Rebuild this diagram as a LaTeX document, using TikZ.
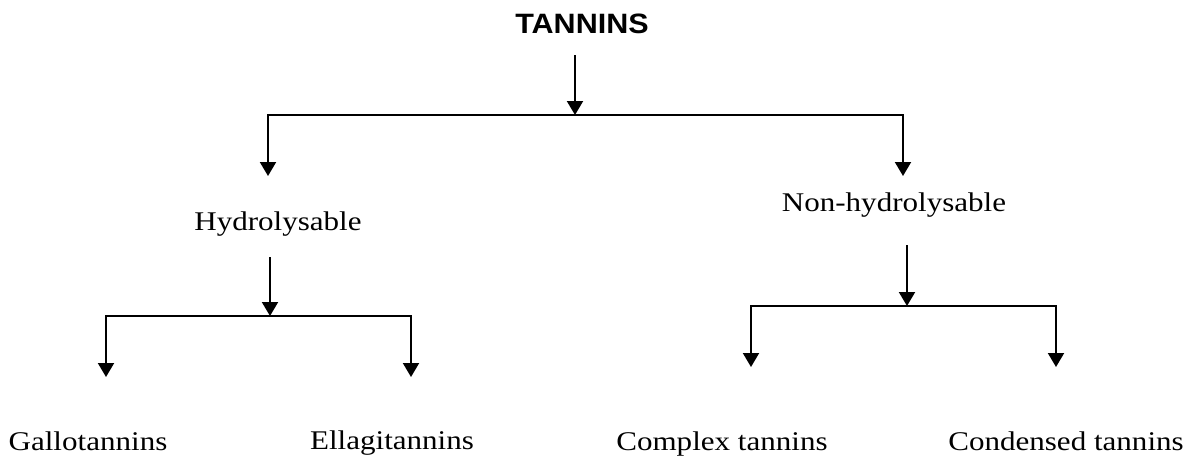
\documentclass[tikz,border=0pt]{standalone}
\usepackage{fontspec}
\usepackage{graphicx}
\setmainfont{Liberation Serif}
\newfontfamily\headfont{Liberation Sans}
\usetikzlibrary{arrows.meta}
\tikzset{
  lbl/.style={anchor=base, inner sep=0pt, font=\fontsize{27}{30}\selectfont},
  head/.style={anchor=base, inner sep=0pt, font=\headfont\bfseries\fontsize{28}{32}\selectfont},
  arr/.style={line width=2pt, -{Triangle[width=16pt,length=14pt]}},
  bar/.style={line width=1.5pt, line cap=rect},
}
\newcommand{\wtext}[1]{\scalebox{1.15}[1]{#1}}
\begin{document}
\begin{tikzpicture}[x=1pt,y=-1pt]
\useasboundingbox (0,0) rectangle (1184,456);
% labels
\node[head] (tan) at (582,33) {\scalebox{1.09}[1]{TANNINS}};
\node[lbl] (hyd) at (278,230) {\wtext{Hydrolysable}};
\node[lbl] (non) at (894,211) {\wtext{Non-hydrolysable}};
\node[lbl] (gal) at (88,450) {\wtext{Gallotannins}};
\node[lbl] (ell) at (392,449) {\wtext{Ellagitannins}};
\node[lbl] (com) at (722,450) {\wtext{Complex tannins}};
\node[lbl] (con) at (1066,450) {\wtext{Condensed tannins}};
% coordinates
\coordinate (t0) at (575,55);
\coordinate (j1) at (575,115);
\coordinate (b1l) at (268,115);
\coordinate (b1r) at (903,115);
\coordinate (e1l) at (268,176);
\coordinate (e1r) at (903,176);
\coordinate (h0) at (270,257);
\coordinate (j2) at (270,316);
\coordinate (b2l) at (106,316);
\coordinate (b2r) at (411,316);
\coordinate (e2l) at (106,377);
\coordinate (e2r) at (411,377);
\coordinate (n0) at (907,245);
\coordinate (j3) at (907,306);
\coordinate (b3l) at (751,306);
\coordinate (b3r) at (1056,306);
\coordinate (e3l) at (751,367);
\coordinate (e3r) at (1056,367);
% level 1
\draw[arr] (t0) -- (j1);
\draw[bar] (b1l) -- (b1r);
\draw[arr] (b1l) -- (e1l);
\draw[arr] (b1r) -- (e1r);
% level 2 left
\draw[arr] (h0) -- (j2);
\draw[bar] (b2l) -- (b2r);
\draw[arr] (b2l) -- (e2l);
\draw[arr] (b2r) -- (e2r);
% level 2 right
\draw[arr] (n0) -- (j3);
\draw[bar] (b3l) -- (b3r);
\draw[arr] (b3l) -- (e3l);
\draw[arr] (b3r) -- (e3r);
\end{tikzpicture}
\end{document}
